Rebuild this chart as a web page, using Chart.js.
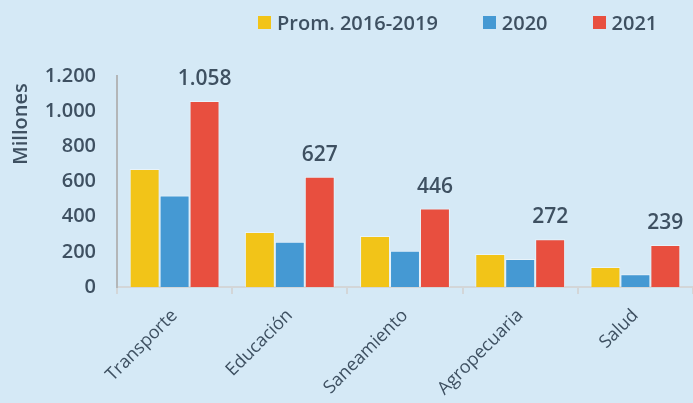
<!DOCTYPE html>
<html>
<head>
<meta charset="utf-8">
<script src="https://cdn.jsdelivr.net/npm/chart.js@4.4.0/dist/chart.umd.min.js"></script>
<style>
    html, body { margin: 0; padding: 0; }
    body { width: 693px; height: 403px; background: #d5e9f6; overflow: hidden; font-family: 'Open Sans', sans-serif; }
    #wrap { position: relative; width: 693px; height: 403px; }
    #legend { position: absolute; top: 9px; left: 258px; display: flex; align-items: center; white-space: nowrap; color: #3e5061; font-size: 20px; font-weight: 600; }
    #legend .item { display: flex; align-items: center; margin-right: 45px; }
    #legend .box { width: 13px; height: 13px; margin-right: 6px; }
</style>
</head>
<body>
<div id="wrap">
    <div id="legend"></div>
    <canvas id="chart" width="693" height="403"></canvas>
</div>
<script>
const categories = ['Transporte', 'Educación', 'Saneamiento', 'Agropecuaria', 'Salud'];
const seriesNames = ['Prom. 2016-2019', '2020', '2021'];
const prom2016_2019 = [671, 313, 290, 188, 114];
const values2020 = [521, 258, 206, 159, 72];
const values2021 = [1058, 627, 446, 272, 239];
const yTicks = [0, 200, 400, 600, 800, 1000, 1200];
const yTitle = 'Millones';

const colors = ['#f2c418', '#4599d3', '#e84f3f'];
const textColor = '#3e5061';

function fmt(v) {
    return String(v).replace(/\B(?=(\d{3})+(?!\d))/g, '.');
}

// legend in html
const legendEl = document.getElementById('legend');
seriesNames.forEach(function(name, i) {
    const item = document.createElement('div');
    item.className = 'item';
    const box = document.createElement('span');
    box.className = 'box';
    box.style.background = colors[i];
    const label = document.createElement('span');
    label.textContent = name;
    item.appendChild(box);
    item.appendChild(label);
    legendEl.appendChild(item);
});

// values above the 2021 bars + axis title near the top
const topLabels = {
    id: 'topLabels',
    afterDatasetsDraw(chart) {
        const ctx = chart.ctx;
        const meta = chart.getDatasetMeta(2);
        ctx.save();
        ctx.font = '600 21px "Open Sans"';
        ctx.fillStyle = textColor;
        ctx.textAlign = 'center';
        ctx.textBaseline = 'middle';
        meta.data.forEach(function(bar, i) {
            ctx.fillText(fmt(values2021[i]), bar.x, bar.y - 22);
        });

        ctx.font = '600 20px "Open Sans"';
        ctx.translate(21, chart.chartArea.top + 48);
        ctx.rotate(-Math.PI / 2);
        ctx.fillText(yTitle, 0, 0);
        ctx.restore();
    }
};

const dataSets = [prom2016_2019, values2020, values2021].map(function(vals, i) {
    return {
        label: seriesNames[i],
        data: vals,
        backgroundColor: colors[i],
        borderColor: 'rgba(255,255,255,0.45)',
        borderWidth: 1,
        categoryPercentage: 0.78,
        barPercentage: 1
    };
});

new Chart(document.getElementById('chart').getContext('2d'), {
    type: 'bar',
    data: { labels: categories, datasets: dataSets },
    options: {
        responsive: false,
        animation: false,
        layout: { padding: { top: 76, right: 0, left: 0, bottom: 0 } },
        plugins: {
            legend: { display: false },
            tooltip: { enabled: false }
        },
        scales: {
            x: {
                grid: { drawOnChartArea: false, drawTicks: true, tickLength: 7, color: '#d3d6d8', lineWidth: 2 },
                border: { color: '#d3d6d8', width: 2 },
                ticks: {
                    color: textColor,
                    font: { family: 'Open Sans', size: 18 },
                    minRotation: 45,
                    maxRotation: 45,
                    padding: 11
                },
                afterFit(scale) { scale.height = 116; }
            },
            y: {
                min: 0,
                max: 1200,
                afterBuildTicks(scale) { scale.ticks = yTicks.map(function(v) { return { value: v }; }); },
                grid: { display: false },
                border: { color: '#b3b6b8', width: 2 },
                ticks: {
                    color: textColor,
                    font: { family: 'Open Sans', size: 20, weight: '600' },
                    padding: 13,
                    callback: function(v) { return fmt(v); }
                },
                afterFit(scale) { scale.width = 117; }
            }
        }
    },
    plugins: [topLabels]
});
</script>
</body>
</html>
